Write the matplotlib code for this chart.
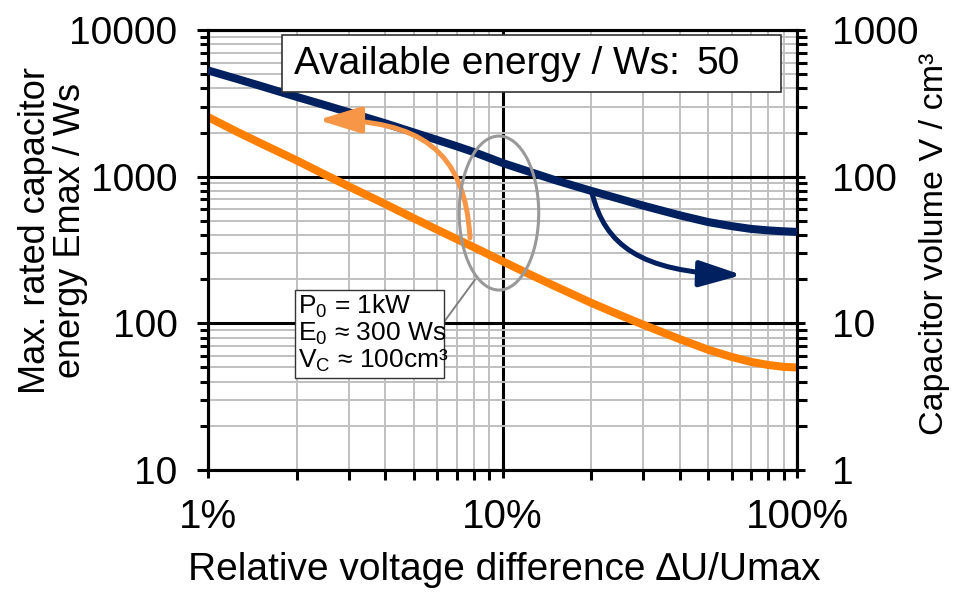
import numpy as np
import matplotlib
matplotlib.use("Agg")
import matplotlib.pyplot as plt
from matplotlib.patches import Ellipse, Rectangle, FancyArrowPatch
from matplotlib.path import Path
from matplotlib.ticker import FixedLocator, FixedFormatter, LogLocator, NullFormatter

plt.rcParams['font.family'] = ['Liberation Sans', 'DejaVu Sans']
plt.rcParams['mathtext.fontset'] = 'custom'
plt.rcParams['mathtext.rm'] = 'Liberation Sans'
plt.rcParams['mathtext.it'] = 'Liberation Sans:italic'

# Daten
du_rel = [0.01, 0.0125, 0.015, 0.02, 0.025, 0.03, 0.04, 0.05, 0.06, 0.07, 0.08, 0.10,
          0.12, 0.15, 0.20, 0.25, 0.30, 0.40, 0.50, 0.60, 0.70, 0.80, 0.90, 1.00]
energy_ws = [2550, 2030, 1700, 1290, 1030, 860, 650, 520, 435, 375, 330, 265,
             222, 180, 138, 114, 98, 78, 66, 59, 54.5, 52, 50.5, 50]
volume_cm3 = [530, 465, 417, 350, 307, 275, 231, 200, 178, 161, 147, 124,
              110, 95, 80, 70.5, 63.5, 54.5, 49, 46, 44, 43, 42.4, 42]

x_ticks = [0.01, 0.1, 1.0]
x_ticklabels = ['1%', '10%', '100%']
yl_ticks = [10, 100, 1000, 10000]
yr_ticks = [1, 10, 100, 1000]

navy = '#002060'
orange = '#FF8000'
light_orange = '#F79646'

W, H = 954, 592
fig = plt.figure(figsize=(W / 100, H / 100), dpi=100)
ax = fig.add_axes([208 / W, 1 - 470 / H, 589 / W, 440 / H])
ax2 = ax.twinx()

for a in (ax, ax2):
    a.set_xscale('log')
    a.set_yscale('log')
    a.set_xlim(0.01, 1.0)
    for s in a.spines.values():
        s.set_linewidth(2.2)
        s.set_color('black')

ax.set_ylim(10, 10000)
ax2.set_ylim(1, 1000)

# Gitter
ax.xaxis.set_minor_locator(LogLocator(base=10, subs=np.arange(2, 10)))
ax.yaxis.set_minor_locator(LogLocator(base=10, subs=np.arange(2, 10)))
ax2.yaxis.set_minor_locator(LogLocator(base=10, subs=np.arange(2, 10)))
ax.grid(which='minor', color='#c0c0c0', lw=1.4)
ax.grid(which='major', color='black', lw=2.2)
ax.set_axisbelow(True)

ax.xaxis.set_major_locator(FixedLocator(x_ticks))
ax.xaxis.set_major_formatter(FixedFormatter(x_ticklabels))
ax.xaxis.set_minor_formatter(NullFormatter())
ax.yaxis.set_major_locator(FixedLocator(yl_ticks))
ax.yaxis.set_major_formatter(FixedFormatter([str(v) for v in yl_ticks]))
ax.yaxis.set_minor_formatter(NullFormatter())
ax2.yaxis.set_major_locator(FixedLocator(yr_ticks))
ax2.yaxis.set_major_formatter(FixedFormatter([str(v) for v in yr_ticks]))
ax2.yaxis.set_minor_formatter(NullFormatter())

ax.tick_params(axis='x', which='major', direction='inout', length=11, width=2.2, labelsize=29, pad=15)
ax.tick_params(axis='x', which='minor', direction='out', length=7, width=2.2)
ax.tick_params(axis='y', which='major', direction='out', length=8, width=2.2, labelsize=28, pad=14)
ax.tick_params(axis='y', which='minor', direction='out', length=6, width=2.2)
ax2.tick_params(axis='y', which='major', direction='inout', length=11, width=2.2, labelsize=28, pad=20)
ax2.tick_params(axis='y', which='minor', direction='out', length=7, width=2.2)

# Kurven
ax.plot(du_rel, energy_ws, color=orange, lw=5.8, solid_capstyle='butt', zorder=3)
ax2.plot(du_rel, volume_cm3, color=navy, lw=5.8, solid_capstyle='butt', zorder=3)

# Alle Anmerkungen auf ax2, damit sie ueber beiden Kurven liegen
inv = ax2.transData.inverted()
def px(xp, yp):
    return tuple(inv.transform((xp, H - yp)))

def curved_arrow(pts, color):
    verts = [px(*p) for p in pts]
    path = Path(verts, [Path.MOVETO, Path.CURVE4, Path.CURVE4, Path.CURVE4])
    ax2.add_patch(FancyArrowPatch(path=path, arrowstyle='-|>,head_length=26,head_width=8',
                                  mutation_scale=1, color=color, lw=3.6,
                                  shrinkA=0, shrinkB=0, zorder=4))

curved_arrow([(470, 238), (465, 150), (420, 120), (318, 120)], light_orange)
curved_arrow([(592, 193), (605, 245), (640, 272), (742, 275)], navy)

# Ellipse und Verbindungslinie
ax2.add_patch(Ellipse((0.494, 0.584), 0.135, 0.35, transform=ax2.transAxes,
                      fill=False, ec='#999999', lw=2.2, zorder=5))
ax2.plot([0.453, 0.401], [0.432, 0.337], transform=ax2.transAxes, color='#808080', lw=1.4, zorder=5)

# Kasten mit Parametern
ax2.add_patch(Rectangle((0.1477, 0.209), 0.253, 0.2, transform=ax2.transAxes,
                        fc='white', ec='#333333', lw=1.0, zorder=6))
ax2.text(0.153, 0.311, "P$_0$ = 1kW\nE$_0$ ≈ 300 Ws\nV$_\\mathrm{C}$ ≈ 100cm³",
         transform=ax2.transAxes, fontsize=19, va='center', ha='left', linespacing=1.05, zorder=7)

# Kasten oben
ax2.add_patch(Rectangle((0.1256, 0.859), 0.847, 0.1295, transform=ax2.transAxes,
                        fc='white', ec='#333333', lw=1.2, zorder=6))
ax2.text(0.146, 0.923, "Available energy / Ws:", transform=ax2.transAxes, fontsize=28,
         va='center', ha='left', zorder=7)
ax2.text(0.830, 0.923, "50", transform=ax2.transAxes, fontsize=28, va='center', ha='left', zorder=7)

# Achsenbeschriftungen
fig.text(504 / W, 1 - 570 / H, "Relative voltage difference ∆U/Umax", fontsize=28,
         ha='center', va='center')
fig.text(53 / W, 1 - 230 / H, "Max. rated capacitor\nenergy Emax / Ws", fontsize=26,
         ha='center', va='center', rotation=90, multialignment='center', linespacing=1.0)
fig.text(935 / W, 1 - 244 / H, "Capacitor volume V / cm³", fontsize=24.5,
         ha='center', va='center', rotation=90)

fig.savefig('out.png', dpi=100)
